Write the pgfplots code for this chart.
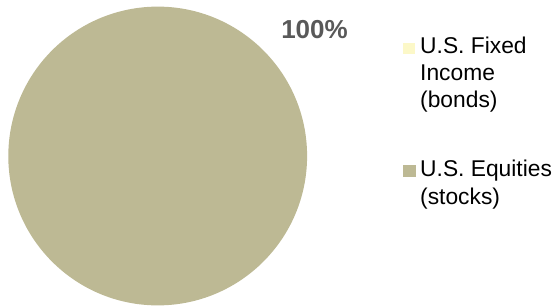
\documentclass[border=0pt]{standalone}
\usepackage{fontspec}
\setmainfont{Liberation Sans}
\usepackage{pgfplots}
\usepackage{pgfplotstable}
\pgfplotsset{compat=1.18}
\definecolor{piebonds}{RGB}{252,248,200}
\definecolor{pieeq}{RGB}{189,185,148}
\definecolor{lblgray}{RGB}{89,89,89}
\pgfplotstableread{
name value
bonds 0
equities 100
}\piedata
\begin{document}
\begin{tikzpicture}
\pgfplotstablegetelem{0}{value}\of\piedata \let\bondv\pgfplotsretval
\pgfplotstablegetelem{1}{value}\of\piedata \let\eqv\pgfplotsretval
\pgfmathsetmacro\bondspan{3.6*\bondv}
\pgfmathsetmacro\eqspan{3.6*\eqv}
\pgfmathsetmacro\eqstart{90-\bondspan}
\begin{axis}[
  at={(0,0)}, anchor=south west,
  scale only axis, width=558pt, height=306pt,
  xmin=0, xmax=558, ymin=0, ymax=306,
  hide axis, clip=false,
]
\ifdim\bondspan pt>0pt
\fill[piebonds] (axis cs:157.7,150) -- ++(90:149.4pt) arc[start angle=90, delta angle=-\bondspan, radius=149.4pt] -- cycle;
\fi
\fill[pieeq] (axis cs:157.7,150) -- ++(\eqstart:149.4pt) arc[start angle=\eqstart, delta angle=-\eqspan, radius=149.4pt] -- cycle;
\node[anchor=base, text=lblgray, font=\fontsize{26}{30}\selectfont\bfseries, inner sep=0pt] at (axis cs:314.5,267) {\pgfmathprintnumber[assume math mode=true]{\eqv}\%};
% legend
\fill[piebonds] (axis cs:403,252) rectangle (axis cs:415,263);
\fill[pieeq] (axis cs:403,129) rectangle (axis cs:415.5,141);
\begin{scope}[every node/.style={anchor=base west, inner sep=0pt, font=\fontsize{22.8}{27}\selectfont}]
\node at (axis cs:420,252) {U.S. Fixed};
\node at (axis cs:420,225) {Income};
\node at (axis cs:420,198) {(bonds)};
\node at (axis cs:420,129) {U.S. Equities};
\node at (axis cs:420,102) {(stocks)};
\end{scope}
\end{axis}
\useasboundingbox (0,0) rectangle (558pt,306pt);
\end{tikzpicture}
\end{document}
